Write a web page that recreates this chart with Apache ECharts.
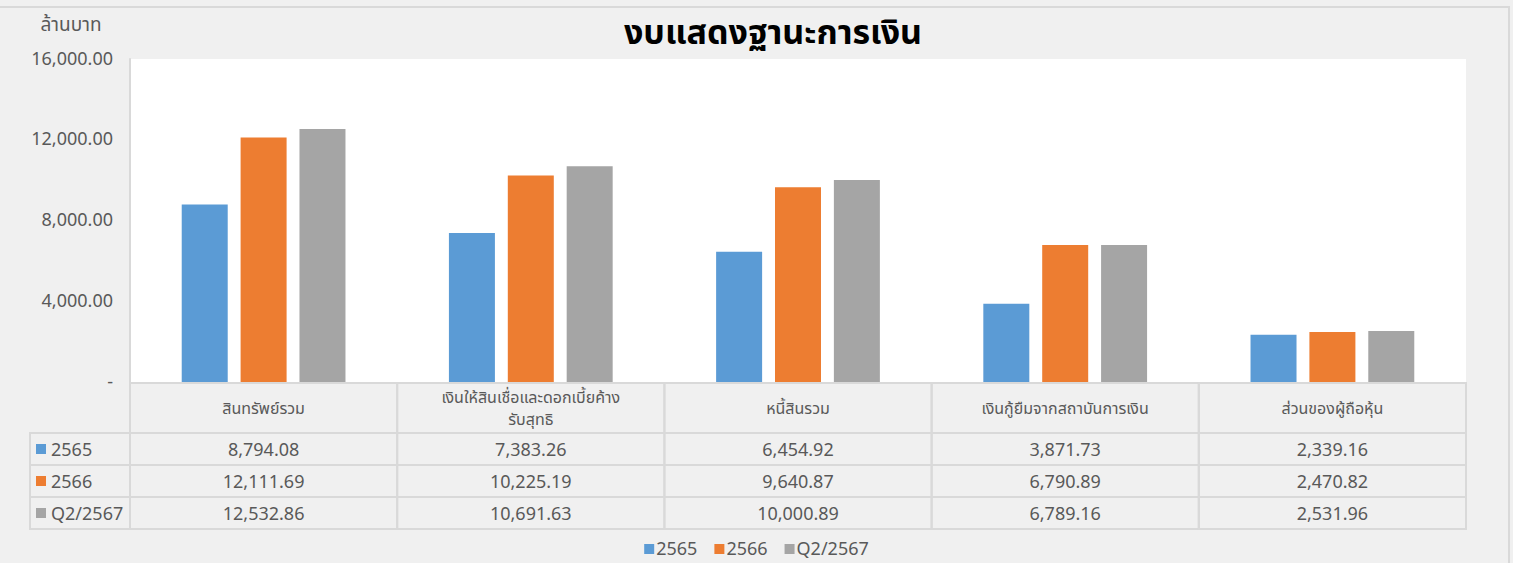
<!DOCTYPE html>
<html>

<head>
	<meta charset="UTF-8">
	<title></title>
	<style>
		html, body {
			margin: 0;
			padding: 0;
			background: #f0f0f0;
		}
		#chart {
			width: 1513px;
			height: 563px;
		}
	</style>
	<script src="https://cdn.jsdelivr.net/npm/echarts@6/dist/echarts.min.js"></script>
</head>

<body>
	<div id="chart"></div>
	<script>
		// หัวตาราง (ขึ้นบรรทัดใหม่ตามต้นฉบับ)
		var categories = ['สินทรัพย์รวม', 'เงินให้สินเชื่อและดอกเบี้ยค้าง\nรับสุทธิ', 'หนี้สินรวม', 'เงินกู้ยืมจากสถาบันการเงิน', 'ส่วนของผู้ถือหุ้น'];
		var seriesNames = ['2565', '2566', 'Q2/2567'];
		var values2565 = [8794.08, 7383.26, 6454.92, 3871.73, 2339.16];
		var values2566 = [12111.69, 10225.19, 9640.87, 6790.89, 2470.82];
		var valuesQ2 = [12532.86, 10691.63, 10000.89, 6789.16, 2531.96];
		var yTicks = [0, 4000, 8000, 12000, 16000];

		var allValues = [values2565, values2566, valuesQ2];
		var colors = ['#5b9bd5', '#ed7d31', '#a5a5a5'];
		var textColor = '#595959';
		var thaiFont = 'Tahoma, "Noto Sans Thai", "Noto Sans", sans-serif';

		// layout of plot + table
		var plotLeft = 130, plotRight = 1466, plotTop = 59, plotBottom = 382;
		var headTop = 383, headBottom = 433, rowH = 32, labelLeft = 30;
		var colW = (plotRight - plotLeft) / categories.length;
		var lineColor = '#d9d9d9';

		function fmt(v) {
			return v.toLocaleString('en-US', { minimumFractionDigits: 2, maximumFractionDigits: 2 });
		}

		var myChart = echarts.init(document.getElementById('chart'), null, { renderer: 'svg' });

		var graphics = [];

		// outer frame
		graphics.push({
			type: 'polyline',
			shape: { points: [[0, 7], [1509, 7], [1509, 563]] },
			style: { stroke: '#d9d9d9', lineWidth: 2, fill: null }
		});

		// header cells (category names), one text per line
		categories.forEach(function (name, i) {
			var x0 = plotLeft + i * colW;
			graphics.push({
				type: 'rect',
				shape: { x: x0, y: headTop, width: colW, height: headBottom - headTop },
				style: { fill: null, stroke: lineColor, lineWidth: 2 }
			});
			var lines = name.split('\n');
			var yMid = (headTop + headBottom) / 2 + 1;
			lines.forEach(function (ln, k) {
				graphics.push({
					type: 'text',
					x: x0 + colW / 2,
					y: yMid + (k - (lines.length - 1) / 2) * 22,
					style: {
						text: ln,
						align: 'center',
						verticalAlign: 'middle',
						fill: textColor,
						font: '16px ' + thaiFont
					}
				});
			});
		});

		// data rows
		seriesNames.forEach(function (sname, r) {
			var y0 = headBottom + r * rowH;
			graphics.push({
				type: 'rect',
				shape: { x: labelLeft, y: y0, width: plotLeft - labelLeft, height: rowH },
				style: { fill: null, stroke: lineColor, lineWidth: 2 }
			});
			graphics.push({
				type: 'rect',
				shape: { x: labelLeft + 6, y: y0 + rowH / 2 - 5, width: 10, height: 10 },
				style: { fill: colors[r] }
			});
			graphics.push({
				type: 'text',
				x: labelLeft + 21,
				y: y0 + rowH / 2 + 1,
				style: {
					text: sname,
					align: 'left',
					verticalAlign: 'middle',
					fill: textColor,
					font: '18px ' + thaiFont
				}
			});
			allValues[r].forEach(function (v, i) {
				var x0 = plotLeft + i * colW;
				graphics.push({
					type: 'rect',
					shape: { x: x0, y: y0, width: colW, height: rowH },
					style: { fill: null, stroke: lineColor, lineWidth: 2 }
				});
				graphics.push({
					type: 'text',
					x: x0 + colW / 2,
					y: y0 + rowH / 2 + 1,
					style: {
						text: fmt(v),
						align: 'center',
						verticalAlign: 'middle',
						fill: textColor,
						font: '18px ' + thaiFont
					}
				});
			});
		});

		// unit label
		graphics.push({
			type: 'text',
			x: 71,
			y: 25,
			style: {
				text: 'ล้านบาท',
				align: 'center',
				verticalAlign: 'middle',
				fill: textColor,
				font: '19px ' + thaiFont
			}
		});

		var option = {
			backgroundColor: '#f0f0f0',
			animation: false,
			color: colors,
			title: {
				text: 'งบแสดงฐานะการเงิน',
				left: 768,
				textAlign: 'center',
				top: 11,
				textStyle: {
					color: '#000',
					fontSize: 34,
					fontWeight: 'bold',
					fontFamily: thaiFont
				}
			},
			legend: {
				bottom: 0,
				left: 'center',
				itemWidth: 10,
				itemHeight: 10,
				itemGap: 17,
				icon: 'rect',
				data: seriesNames,
				textStyle: {
					color: textColor,
					fontSize: 18,
					fontFamily: thaiFont,
					padding: [0, 0, 0, -3]
				}
			},
			grid: {
				left: plotLeft,
				right: 1513 - plotRight,
				top: plotTop,
				bottom: 563 - plotBottom,
				show: true,
				backgroundColor: '#fff',
				borderWidth: 0
			},
			xAxis: {
				type: 'category',
				data: categories,
				axisLine: { show: false },
				axisTick: { show: false },
				axisLabel: { show: false }
			},
			yAxis: {
				type: 'value',
				min: yTicks[0],
				max: yTicks[yTicks.length - 1],
				interval: yTicks[1] - yTicks[0],
				axisLine: { show: true, lineStyle: { color: '#d9d9d9', width: 2 } },
				axisTick: { show: false },
				splitLine: { show: false },
				axisLabel: {
					margin: 17,
					color: textColor,
					fontSize: 18,
					fontFamily: thaiFont,
					formatter: function (v) {
						return v === 0 ? '-' : fmt(v);
					}
				}
			},
			series: seriesNames.map(function (n, i) {
				return {
					name: n,
					type: 'bar',
					data: allValues[i],
					barWidth: 46,
					barGap: '28%'
				};
			}),
			graphic: graphics
		};

		myChart.setOption(option);
	</script>
</body>

</html>
